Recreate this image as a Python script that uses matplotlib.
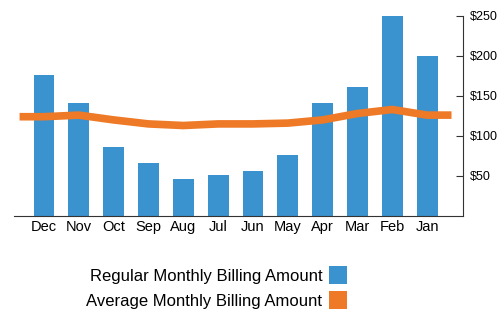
import numpy as np
import matplotlib
matplotlib.use("Agg")
import matplotlib.pyplot as plt
from matplotlib.patches import Patch

plt.rcParams['font.family'] = ['Liberation Sans', 'DejaVu Sans']

# data (the reference is drawn mirrored: Jan on the right, axis on the right)
months = ["Jan", "Feb", "Mar", "Apr", "May", "Jun", "Jul", "Aug", "Sep", "Oct", "Nov", "Dec"]
regular = [200, 250, 161, 141, 76, 56, 51, 46, 66, 86, 141, 176]
average = [126, 133, 128, 120, 116, 115, 115, 113, 115, 120, 126, 124]
y_ticks = [50, 100, 150, 200, 250]

blue = "#3a92cf"
orange = "#ee7a27"

fig = plt.figure(figsize=(5, 3.18), dpi=100)
ax = fig.add_axes([0.028, 0.321, 0.898, 0.629])

x = np.arange(len(months))
ax.bar(x, regular, width=0.6, color=blue, zorder=2)

# line runs a little past the outer bars
xl = np.concatenate([[x[0] - 0.7], x, [x[-1] + 0.7]])
yl = np.concatenate([[average[0]], average, [average[-1]]])
ax.plot(xl, yl, color=orange, lw=5.5, solid_capstyle='butt',
        solid_joinstyle='round', zorder=3)

ax.set_xlim(len(months) - 1 + 0.86, -1.03)
ax.set_ylim(0, 250)

ax.set_xticks(x)
ax.set_xticklabels(months, fontsize=10.5)
ax.tick_params(axis='x', length=0, pad=3)

ax.yaxis.tick_right()
ax.set_yticks(y_ticks)
ax.set_yticklabels([f"${v}" for v in y_ticks], fontsize=9)
ax.tick_params(axis='y', direction='in', length=5, width=0.8, pad=5, color="#333333")

for s in ["top", "left"]:
    ax.spines[s].set_visible(False)
ax.spines["right"].set_color("#333333")
ax.spines["bottom"].set_color("#333333")
ax.spines["right"].set_linewidth(0.8)
ax.spines["bottom"].set_linewidth(0.8)

handles = [Patch(facecolor=blue, label="Regular Monthly Billing Amount"),
           Patch(facecolor=orange, label="Average Monthly Billing Amount")]
fig.legend(handles=handles, loc="center right", bbox_to_anchor=(0.725, 0.095),
           frameon=False, markerfirst=False, fontsize=12,
           handlelength=1.1, handleheight=1.3, handletextpad=0.4, labelspacing=0.4)

fig.savefig("out.png", dpi=100)
